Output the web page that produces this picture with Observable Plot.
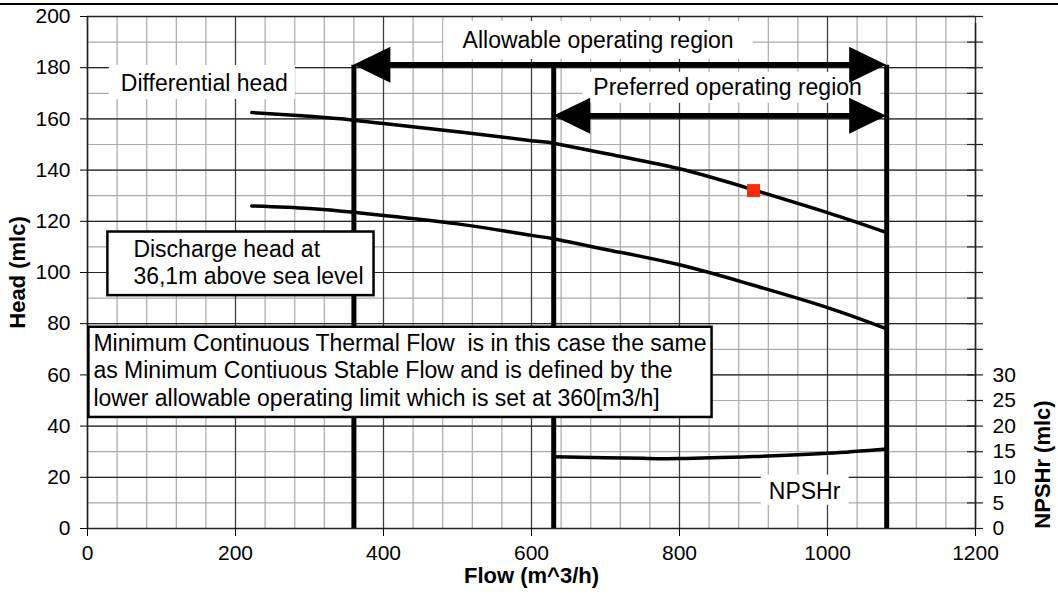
<!DOCTYPE html>
<html>
<head>
<meta charset="utf-8">
<script src="https://cdn.jsdelivr.net/npm/d3@7"></script>
<script src="https://cdn.jsdelivr.net/npm/@observablehq/plot@0.6"></script>
<style>
  html, body { margin: 0; padding: 0; background: #fff; }
  #chart { position: relative; width: 1058px; height: 594px; overflow: hidden; }
  #rule { position: absolute; left: 0; right: 0; top: 3px; height: 2px; background: #000; }
  #chart svg text { white-space: pre; }
</style>
</head>
<body>
<div id="chart"><div id="rule"></div></div>
<script>
// ---- Pump performance data (flow in m^3/h, head in m liquid column) ----
const flow = [222, 300, 360, 400, 500, 600, 630, 700, 800, 900, 1000, 1080];
const differentialHead = [162.5, 161.0, 159.5, 158.2, 155.0, 151.5, 150.5, 146.5, 140.5, 132.3, 123.4, 115.6];
const dischargeHead = [126.0, 125.0, 123.5, 122.3, 119.0, 114.5, 113.2, 109.0, 103.0, 95.0, 86.3, 78.0];

const npshFlow = [630, 700, 750, 800, 900, 1000, 1080];
const npshr = [14.0, 13.8, 13.7, 13.65, 14.05, 14.7, 15.55];

// rated duty point
const dutyFlow = [900];
const dutyHead = [132];

// operating limits: flow and the head where each limit line ends
const limitFlow = [360, 630, 1080];
const limitTop = [181, 180, 181];

// operating regions drawn as double-headed arrows
const regionFrom = [360, 630];
const regionTo = [1080, 1080];
const regionLevel = [181, 161];

// tick values
const xTicks = [0, 200, 400, 600, 800, 1000, 1200];
const yTicks = [0, 20, 40, 60, 80, 100, 120, 140, 160, 180, 200];
const npshTicks = [0, 5, 10, 15, 20, 25, 30];
const npshToHead = 2; // 1 m of NPSHr spans 2 m on the head axis

// annotation texts and their anchors (flow, head)
const labelText = ["Allowable operating region", "Preferred operating region", "Differential head", "NPSHr"];
const labelFlow = [690, 865, 45, 969];
const labelHead = [190.6, 172.3, 173.8, 14.5];
const labelAnchor = ["middle", "middle", "start", "middle"];

const noteText = [
  "Discharge head at\n36,1m above sea level",
  "Minimum Continuous Thermal Flow  is in this case the same\nas Minimum Contiuous Stable Flow and is defined by the\nlower allowable operating limit which is set at 360[m3/h]"
];
const noteFlow = [62, 8];
const noteHead = [104.3, 62.1];

// ---- derived tables ----
const diffData = flow.map((f, i) => ({flow: f, head: differentialHead[i]}));
const dischargeData = flow.map((f, i) => ({flow: f, head: dischargeHead[i]}));
const npshData = npshFlow.map((f, i) => ({flow: f, npsh: npshr[i]}));
const dutyData = dutyFlow.map((f, i) => ({flow: f, head: dutyHead[i]}));
const limitData = limitFlow.map((f, i) => ({flow: f, top: limitTop[i]}));
const regionData = regionFrom.map((f, i) => ({from: f, to: regionTo[i], level: regionLevel[i]}));
const labels = labelText.map((t, i) => ({text: t, flow: labelFlow[i], head: labelHead[i], anchor: labelAnchor[i]}));
const notes = noteText.map((t, i) => ({text: t, flow: noteFlow[i], head: noteHead[i]}));

// backdrop padding for the labels [left, right, top, bottom]
const labelPad = [[19, 19, 6, 6], [11, 19, 2, 3], [12, 7, 5, 3], [8, 8, 3, 1]];
const notePad = [[26, 10, 4, 6], [5, 5, 3, 6]];

const minorX = d3.range(0, 1201, 40);
const minorY = d3.range(0, 201, 10);

const font = "'Liberation Sans', Arial, Helvetica, sans-serif";

// double-headed arrows with solid triangular heads
function regionArrows(index, scales) {
  const headLen = 37, headHalf = 18;
  const g = d3.create("svg:g").attr("aria-label", "operating regions");
  for (const r of regionData) {
    const x1 = scales.x(r.from), x2 = scales.x(r.to), y = scales.y(r.level);
    g.append("line")
      .attr("x1", x1 + headLen - 2).attr("x2", x2 - headLen + 2)
      .attr("y1", y).attr("y2", y)
      .attr("stroke", "black").attr("stroke-width", 5.5);
    g.append("path")
      .attr("d", `M${x1},${y}L${x1 + headLen},${y - headHalf}L${x1 + headLen},${y + headHalf}Z`)
      .attr("fill", "black");
    g.append("path")
      .attr("d", `M${x2},${y}L${x2 - headLen},${y - headHalf}L${x2 - headLen},${y + headHalf}Z`)
      .attr("fill", "black");
  }
  return g.node();
}

const chart = Plot.plot({
  width: 1058,
  height: 594,
  marginLeft: 87,
  marginRight: 83,
  marginTop: 16,
  marginBottom: 66,
  x: {domain: [0, 1200]},
  y: {domain: [0, 200]},
  style: {fontFamily: font, fontSize: "21px", background: "white", color: "black"},
  marks: [
    // grid
    Plot.ruleX(minorX, {stroke: "#aaaaaa", strokeWidth: 1.2}),
    Plot.ruleY(minorY, {stroke: "#aaaaaa", strokeWidth: 1.2}),
    Plot.ruleX(xTicks, {stroke: "#3c3c3c", strokeWidth: 1.2}),
    Plot.ruleY(yTicks, {stroke: "#262626", strokeWidth: 1.2}),
    Plot.ruleX([0], {stroke: "#222", strokeWidth: 1.5}),
    Plot.ruleX([1200], {y1: 0, y2: 200, insetBottom: -7, stroke: "#222", strokeWidth: 1.5}),
    Plot.ruleY([0, 200], {stroke: "#222", strokeWidth: 1.5}),
    // right-hand tick marks crossing the secondary axis
    Plot.ruleY(minorY, {x1: 1200, x2: 1200, insetLeft: -8, insetRight: -8, stroke: "#222", strokeWidth: 1.2}),

    // pump curves
    Plot.line(diffData, {x: "flow", y: "head", stroke: "black", strokeWidth: 3.5, curve: "natural"}),
    Plot.line(dischargeData, {x: "flow", y: "head", stroke: "black", strokeWidth: 3.5, curve: "natural"}),
    Plot.line(npshData, {x: "flow", y: d => d.npsh * npshToHead, stroke: "black", strokeWidth: 3.5, curve: "natural"}),

    // operating limits
    Plot.ruleX(limitData, {x: "flow", y1: 0, y2: "top", stroke: "black", strokeWidth: 5}),

    // duty point
    Plot.dot(dutyData, {x: "flow", y: "head", symbol: "square", r: 7.3, fill: "#ff2a00"}),

    // axes
    Plot.axisX(xTicks, {tickSize: 8, tickPadding: 9, label: null, fontSize: 21, tickFormat: d => String(d)}),
    Plot.axisY(yTicks, {anchor: "left", tickSize: 7, tickPadding: 10, label: null, fontSize: 21, tickFormat: d => String(d)}),
    Plot.axisY(npshTicks.map(v => v * npshToHead), {
      anchor: "right", tickSize: 0, tickPadding: 17, label: null, fontSize: 21,
      tickFormat: d => String(d / npshToHead)
    }),

    // labels on white backdrops
    ...labels.map((d, i) => Plot.text([d], {
      x: "flow", y: "head", text: "text", textAnchor: d.anchor,
      fontSize: 23, fill: "black", ariaDescription: `label-${i}`
    })),

    // framed notes
    ...notes.map((d, i) => Plot.text([d], {
      x: "flow", y: "head", text: "text", textAnchor: "start", lineHeight: 1.2,
      fontSize: 23, fill: "black", ariaDescription: `note-${i}`
    })),

    // operating region arrows
    regionArrows,

    // axis titles
    Plot.text(["Head (mlc)"], {text: d => d, frameAnchor: "left", textAnchor: "middle", dx: -70, rotate: -90, fontWeight: "bold", fontSize: 22}),
    Plot.text(["NPSHr (mlc)"], {text: d => d, frameAnchor: "right", textAnchor: "middle", y: 25, dx: 67, rotate: -90, fontWeight: "bold", fontSize: 22}),
    Plot.text(["Flow (m^3/h)"], {text: d => d, x: 600, frameAnchor: "bottom", textAnchor: "middle", dy: 54, fontWeight: "bold", fontSize: 22})
  ]
});

document.getElementById("chart").appendChild(chart);

// white boxes behind label text; framed boxes for notes
function backdrop(tag, pad, framed) {
  chart.querySelectorAll(`g[aria-description="${tag}"] text`).forEach(t => {
    const b = t.getBBox();
    const r = document.createElementNS("http://www.w3.org/2000/svg", "rect");
    r.setAttribute("x", b.x - pad[0]);
    r.setAttribute("y", b.y - pad[2]);
    r.setAttribute("width", b.width + pad[0] + pad[1]);
    r.setAttribute("height", b.height + pad[2] + pad[3]);
    r.setAttribute("fill", "white");
    if (framed) {
      r.setAttribute("stroke", "black");
      r.setAttribute("stroke-width", 2.5);
    }
    const tr = t.getAttribute("transform");
    if (tr) r.setAttribute("transform", tr);
    t.parentNode.insertBefore(r, t);
  });
}
labelPad.forEach((p, i) => backdrop(`label-${i}`, p, false));
notePad.forEach((p, i) => backdrop(`note-${i}`, p, true));
</script>
</body>
</html>
